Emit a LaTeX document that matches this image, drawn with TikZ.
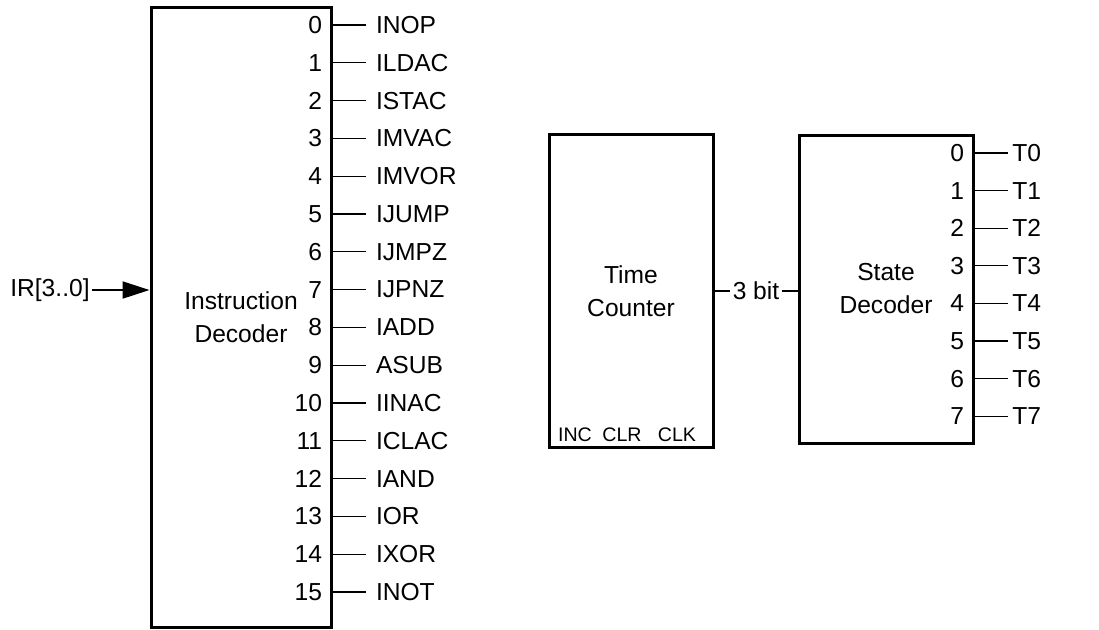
\documentclass[tikz,border=0pt]{standalone}
\usepackage{fontspec}
\setmainfont{Liberation Sans}
\usetikzlibrary{arrows.meta}

\tikzset{
  blk/.style={draw,line width=1.5pt,align=center,inner sep=0pt},
  pinnum/.style={anchor=east,inner sep=5pt},
  pinlbl/.style={anchor=west,inner sep=2pt},
  pinline/.style={line width=0.6pt},
  small/.style={font=\fontsize{9.8}{12}\selectfont},
}

\begin{document}
\begin{tikzpicture}[x=0.5pt,y=-0.5pt,font=\fontsize{12.3}{16.5}\selectfont]
\useasboundingbox (0,0) rectangle (1099,629);
% blocks
\node[blk,minimum width=90pt,minimum height=310pt] (id) at (241,317) {Instruction\\Decoder};
\node[blk,minimum width=82pt,minimum height=156.5pt] (tc) at (631,291) {Time\\Counter};
\node[blk,minimum width=87pt,minimum height=154pt] (sd) at (886,289) {State\\Decoder};
% instruction decoder outputs
\foreach \lbl [count=\i from 0] in {INOP,ILDAC,ISTAC,IMVAC,IMVOR,IJUMP,IJMPZ,IJPNZ,IADD,ASUB,IINAC,ICLAC,IAND,IOR,IXOR,INOT} {
  \node[pinlbl,outer sep=3pt] (idl\i) at (366,25+37.8*\i) {\lbl};
  \coordinate (idp\i) at (id.east |- idl\i.west);
  \node[pinnum] (idn\i) at (idp\i) {\i};
  \draw[pinline] (idp\i) -- (idl\i.west);
}
% input
\node[anchor=east,inner sep=1pt] (ir) at (92,290) {IR[3..0]};
\draw[line width=1pt,-{Triangle[length=13.5pt,width=8.5pt]}] (ir.east) -- (id.west |- ir.east);
% time counter
\node[small] (inc) at (575,435) {INC};
\node[small] (clr) at (622,435) {CLR};
\node[small] (clk) at (677,435) {CLK};
\node[inner sep=1pt] (tb) at (756,291) {3 bit};
\draw[line width=1pt] (tc.east) -- (tb.west);
\draw[line width=1pt] (tb.east) -- (sd.west |- tb.east);
% state decoder outputs
\foreach \i in {0,...,7} {
  \node[pinlbl] (sdl\i) at (1008,153+37.6*\i) {T\i};
  \coordinate (sdp\i) at (sd.east |- sdl\i.west);
  \node[pinnum] (sdn\i) at (sdp\i) {\i};
  \draw[pinline] (sdp\i) -- (sdl\i.west);
}
\end{tikzpicture}
\end{document}
